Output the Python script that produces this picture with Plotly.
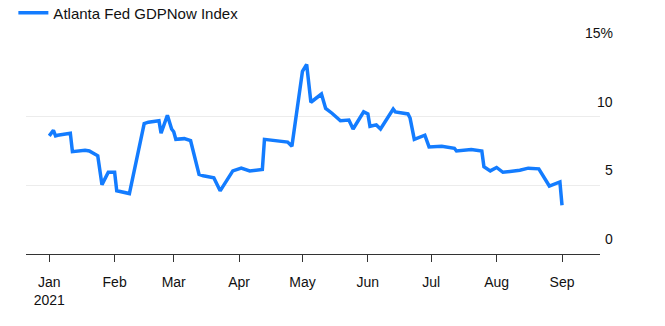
import plotly.graph_objects as go

dates = [
    "2021-01-01", "2021-01-03", "2021-01-04", "2021-01-05", "2021-01-11", "2021-01-12",
    "2021-01-18", "2021-01-20", "2021-01-24", "2021-01-26", "2021-01-29", "2021-02-01",
    "2021-02-02", "2021-02-08", "2021-02-15", "2021-02-17", "2021-02-22", "2021-02-23",
    "2021-02-26", "2021-02-28", "2021-03-01", "2021-03-02", "2021-03-06", "2021-03-09",
    "2021-03-13", "2021-03-15", "2021-03-20", "2021-03-23", "2021-03-29", "2021-04-02",
    "2021-04-06", "2021-04-09", "2021-04-12", "2021-04-13", "2021-04-21", "2021-04-24",
    "2021-04-26", "2021-05-01", "2021-05-03", "2021-05-05", "2021-05-10", "2021-05-12",
    "2021-05-15", "2021-05-19", "2021-05-23", "2021-05-25", "2021-05-30", "2021-06-01",
    "2021-06-02", "2021-06-05", "2021-06-07", "2021-06-13", "2021-06-14", "2021-06-20",
    "2021-06-21", "2021-06-23", "2021-06-28", "2021-06-30", "2021-07-06", "2021-07-12",
    "2021-07-13", "2021-07-20", "2021-07-25", "2021-07-26", "2021-07-29", "2021-08-01",
    "2021-08-04", "2021-08-12", "2021-08-16", "2021-08-21", "2021-08-26", "2021-08-31",
    "2021-09-01",
]
gdpnow = [
    8.6, 9.0, 8.6, 8.65, 8.8, 7.45,
    7.55, 7.5, 7.15, 5.05, 5.95, 5.95,
    4.6, 4.4, 9.5, 9.6, 9.7, 8.8,
    10.1, 9.1, 8.9, 8.35, 8.4, 8.25,
    5.8, 5.7, 5.55, 4.6, 6.05, 6.25,
    6.05, 6.1, 6.15, 8.35, 8.25, 8.15,
    7.85, 13.3, 13.8, 11.05, 11.65, 10.6,
    10.25, 9.7, 9.75, 9.1, 10.35, 10.2,
    9.3, 9.4, 9.1, 10.55, 10.35, 10.2,
    9.9, 8.35, 8.65, 7.8, 7.85, 7.7,
    7.5, 7.6, 7.5, 6.35, 6.05, 6.3,
    5.95, 6.1, 6.25, 6.2, 4.95, 5.25,
    3.55,
]

y_ticks = [0, 5, 10, 15]
y_tick_labels = ["0", "5", "10", "15%"]
x_tick_vals = ["2021-01-01", "2021-02-01", "2021-03-01", "2021-04-01", "2021-05-01",
               "2021-06-01", "2021-07-01", "2021-08-01", "2021-09-01"]
x_tick_labels = ["Jan<br>2021", "Feb", "Mar", "Apr", "May", "Jun", "Jul", "Aug", "Sep"]
x_range = ["2020-12-21", "2021-09-19"]

FONT = "Liberation Sans, Arial, sans-serif"
BLUE = "#137cff"

fig = go.Figure()
fig.add_trace(go.Scatter(
    x=dates, y=gdpnow, mode="lines",
    line=dict(color=BLUE, width=3.5),
    name="Atlanta Fed GDPNow Index",
    showlegend=True,
))

for v, t in zip(y_ticks, y_tick_labels):
    fig.add_annotation(
        x=1, xref="paper", y=v, yref="y",
        text=t, showarrow=False,
        xanchor="right", yanchor="bottom",
        xshift=15, yshift=5,
        font=dict(family=FONT, size=14, color="#111"),
    )

fig.update_layout(
    width=665, height=326,
    margin=dict(l=26, r=65, t=48, b=72),
    paper_bgcolor="white", plot_bgcolor="white",
    font=dict(family=FONT, size=14, color="#111"),
    showlegend=True,
    legend=dict(
        orientation="h", x=-0.022, xanchor="left", y=0.96, yref="container",
        yanchor="middle", font=dict(family=FONT, size=15, color="#111"),
        itemwidth=30, bgcolor="rgba(0,0,0,0)",
    ),
    xaxis=dict(
        type="date", range=x_range,
        tickmode="array", tickvals=x_tick_vals, ticktext=x_tick_labels,
        tickangle=0, ticklabelstandoff=8,
        showgrid=False, zeroline=False,
        showline=True, linecolor="#333", linewidth=1,
        ticks="outside", ticklen=7, tickcolor="#333", tickwidth=1,
        tickfont=dict(family=FONT, size=14, color="#111"),
    ),
    yaxis=dict(
        range=[0, 15], tickvals=y_ticks, showticklabels=False,
        showgrid=True, gridcolor="#ececec", gridwidth=1,
        zeroline=False, fixedrange=True,
    ),
)

fig.write_html("out.html")
